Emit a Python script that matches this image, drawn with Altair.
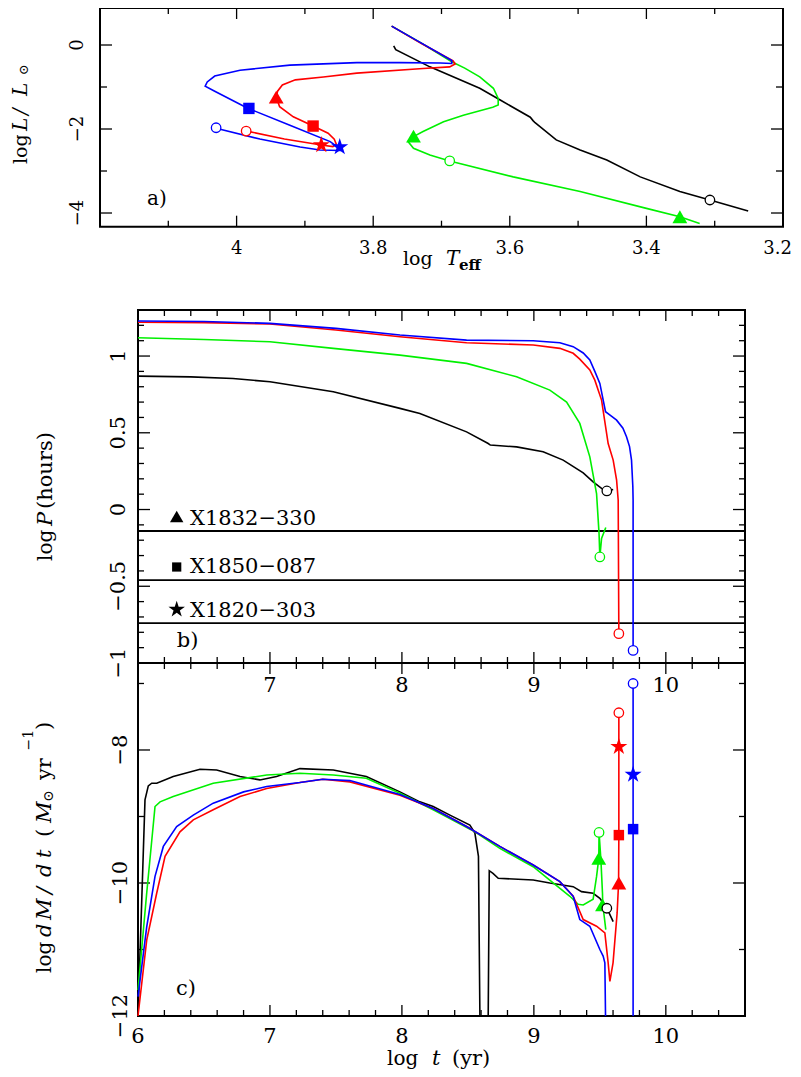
import altair as alt
import pandas as pd

FONT = "DejaVu Serif"
BLACK, GREEN, RED, BLUE = "#000000", "#00f000", "#ff0000", "#0000ff"

# ---------------- panel a : log L vs log Teff ----------------
a_black_teff = [3.770, 3.767, 3.717, 3.644, 3.614, 3.570, 3.566, 3.563, 3.532, 3.497, 3.458, 3.409, 3.351, 3.307, 3.251]
a_black_logl = [-0.02, -0.11, -0.52, -1.03, -1.31, -1.72, -1.80, -1.85, -2.26, -2.50, -2.74, -3.14, -3.49, -3.69, -3.95]
a_green_teff = [3.773, 3.730, 3.685, 3.666, 3.644, 3.624, 3.617, 3.617, 3.625, 3.668, 3.697, 3.727, 3.741, 3.749, 3.741, 3.717, 3.688, 3.595, 3.497, 3.400, 3.351, 3.322]
a_green_logl = [0.45, 0.05, -0.40, -0.55, -0.76, -1.03, -1.27, -1.43, -1.48, -1.67, -1.83, -2.06, -2.18, -2.30, -2.46, -2.62, -2.76, -3.14, -3.49, -3.89, -4.09, -4.25]
a_red_teff = [3.773, 3.730, 3.683, 3.680, 3.688, 3.727, 3.824, 3.873, 3.914, 3.933, 3.940, 3.942, 3.937, 3.917, 3.888, 3.866, 3.857, 3.854, 3.859, 3.876, 3.930, 3.985]
a_red_logl = [0.45, 0.04, -0.38, -0.45, -0.52, -0.56, -0.67, -0.76, -0.83, -0.95, -1.10, -1.24, -1.47, -1.71, -1.93, -2.10, -2.24, -2.36, -2.42, -2.38, -2.24, -2.05]
a_blue_teff = [3.773, 3.730, 3.685, 3.685, 3.702, 3.761, 3.824, 3.922, 3.995, 4.032, 4.043, 4.046, 4.032, 3.983, 3.922, 3.863, 3.852, 3.849, 3.878, 3.907, 3.966, 4.030]
a_blue_logl = [0.45, 0.05, -0.37, -0.44, -0.43, -0.42, -0.42, -0.48, -0.60, -0.74, -0.88, -0.98, -1.10, -1.51, -1.91, -2.30, -2.43, -2.51, -2.50, -2.43, -2.24, -1.98]

a_tri_teff = [3.942, 3.741, 3.351]
a_tri_logl = [-1.24, -2.17, -4.09]
a_tri_col = [RED, GREEN, GREEN]
a_sq_teff = [3.982, 3.888]
a_sq_logl = [-1.51, -1.93]
a_sq_col = [BLUE, RED]
a_star_teff = [3.849, 3.876]
a_star_logl = [-2.43, -2.38]
a_star_col = [BLUE, RED]
a_circ_teff = [4.030, 3.986, 3.688, 3.307]
a_circ_logl = [-1.97, -2.05, -2.76, -3.69]
a_circ_col = [BLUE, RED, GREEN, BLACK]

# ---------------- panel b : log P vs log t ----------------
b_black_t = [6.0, 6.4, 6.72, 7.0, 7.48, 7.985, 8.136, 8.49, 8.654, 8.67, 8.869, 9.07, 9.222, 9.374, 9.449, 9.525, 9.553, 9.601]
b_black_p = [0.869, 0.864, 0.854, 0.832, 0.767, 0.659, 0.626, 0.506, 0.43, 0.42, 0.408, 0.376, 0.322, 0.239, 0.18, 0.130, 0.121, 0.130]
b_green_t = [6.0, 6.5, 7.0, 7.48, 7.985, 8.49, 8.869, 9.121, 9.248, 9.348, 9.424, 9.475, 9.494, 9.5, 9.513, 9.545]
b_green_p = [1.119, 1.108, 1.093, 1.05, 1.006, 0.952, 0.865, 0.778, 0.70, 0.561, 0.343, 0.104, -0.157, -0.309, -0.189, -0.117]
b_red_t = [6.0, 6.5, 7.0, 7.5, 7.985, 8.49, 8.995, 9.197, 9.298, 9.348, 9.424, 9.462, 9.513, 9.563, 9.601, 9.627, 9.639, 9.644]
b_red_p = [1.22, 1.218, 1.209, 1.17, 1.126, 1.087, 1.072, 1.05, 1.018, 0.98, 0.909, 0.843, 0.713, 0.43, 0.322, 0.191, 0.061, -0.809]
b_blue_t = [6.0, 6.5, 7.0, 7.5, 7.985, 8.49, 8.995, 9.197, 9.298, 9.374, 9.424, 9.462, 9.5, 9.543, 9.585, 9.627, 9.675, 9.702, 9.725, 9.74, 9.75, 9.752, 9.752]
b_blue_p = [1.228, 1.225, 1.213, 1.18, 1.137, 1.104, 1.10, 1.087, 1.061, 1.02, 0.974, 0.90, 0.822, 0.637, 0.61, 0.582, 0.53, 0.474, 0.41, 0.322, 0.15, 0.061, -0.918]
b_circ_t = [9.553, 9.5, 9.644, 9.752]
b_circ_p = [0.121, -0.309, -0.809, -0.918]
b_circ_col = [BLACK, GREEN, RED, BLUE]
b_period_p = [-0.14, -0.46, -0.74]
b_period_names = ["X1832\u2212330", "X1850\u2212087", "X1820\u2212303"]

# ---------------- panel c : log dM/dt vs log t ----------------
c_black_t = [6.0, 6.053, 6.078, 6.104, 6.142, 6.267, 6.47, 6.596, 6.773, 6.924, 7.05, 7.227, 7.48, 7.73, 7.985, 8.136, 8.237, 8.364, 8.515, 8.553, 8.58, 8.591,
             8.654, 8.662, 8.69, 8.73, 8.995, 9.121, 9.298, 9.361, 9.449, 9.5, 9.553, 9.601]
c_black_m = [-12.0, -8.75, -8.54, -8.50, -8.50, -8.40, -8.29, -8.30, -8.40, -8.45, -8.40, -8.28, -8.30, -8.40, -8.63, -8.78, -8.85, -8.98, -9.13, -9.25, -9.6, -12.0,
             -12.0, -9.815, -9.855, -9.93, -9.955, -10.0, -10.055, -10.13, -10.155, -10.23, -10.38, -10.58]
c_black_seg = [0] * 22 + [1] * 12
c_green_t = [6.0, 6.066, 6.129, 6.167, 6.267, 6.57, 6.975, 7.227, 7.48, 7.73, 7.985, 8.237, 8.553, 8.742, 8.995, 9.146, 9.273, 9.336, 9.374, 9.449, 9.475, 9.492, 9.494, 9.508, 9.52, 9.522, 9.533, 9.545]
c_green_m = [-11.61, -10.15, -8.85, -8.78, -8.70, -8.50, -8.376, -8.35, -8.376, -8.426, -8.65, -8.90, -9.23, -9.48, -9.755, -10.0, -10.2, -10.32, -10.33, -10.245, -9.905, -9.63, -9.24, -9.65, -10.155, -10.33, -10.5, -10.7]
c_red_t = [6.0, 6.066, 6.142, 6.205, 6.318, 6.419, 6.57, 6.773, 6.975, 7.227, 7.40, 7.606, 7.985, 8.237, 8.49, 8.742, 8.995, 9.197, 9.298, 9.374, 9.475, 9.538, 9.563, 9.576, 9.60, 9.631, 9.642, 9.644, 9.644]
c_red_m = [-12.0, -10.86, -10.15, -9.60, -9.23, -9.05, -8.90, -8.70, -8.58, -8.49, -8.44, -8.48, -8.68, -8.88, -9.15, -9.45, -9.73, -9.98, -10.20, -10.55, -10.65, -10.75, -11.2, -11.48, -11.2, -10.45, -10.0, -9.28, -7.44]
c_blue_t = [6.0, 6.066, 6.129, 6.192, 6.293, 6.419, 6.57, 6.80, 6.975, 7.227, 7.40, 7.606, 7.985, 8.237, 8.49, 8.742, 8.995, 9.197, 9.298, 9.348, 9.424, 9.5, 9.525, 9.538, 9.543,
            9.752, 9.752]
c_blue_m = [-11.71, -10.66, -9.90, -9.45, -9.15, -8.98, -8.80, -8.63, -8.55, -8.49, -8.44, -8.46, -8.67, -8.88, -9.15, -9.45, -9.73, -9.98, -10.20, -10.55, -10.65, -11.0, -11.1, -11.2, -12.0,
            -12.0, -7.0]
c_blue_seg = [0] * 25 + [1] * 2

c_tri_t = [9.492, 9.52, 9.644]
c_tri_m = [-9.63, -10.33, -10.0]
c_tri_col = [GREEN, GREEN, RED]
c_sq_t = [9.644, 9.752]
c_sq_m = [-9.28, -9.19]
c_sq_col = [RED, BLUE]
c_star_t = [9.644, 9.752]
c_star_m = [-7.95, -8.37]
c_star_col = [RED, BLUE]
c_circ_t = [9.494, 9.553, 9.644, 9.752]
c_circ_m = [-9.24, -10.38, -7.44, -7.0]
c_circ_col = [GREEN, BLACK, RED, BLUE]

# ---------------- tick values / labels ----------------
a_x_major = [4.0, 3.8, 3.6, 3.4]
a_x_minor = [4.1, 3.9, 3.7, 3.5, 3.3]
a_x_lab_v = [4.0, 3.8, 3.6, 3.4]
a_x_lab_t = ["4", "3.8", "3.6", "3.4"]
a_x_last = "3.2"
a_y_major = [0, -2, -4]
a_y_minor = [-1, -3]
a_y_lab_t = ["0", "\u22122", "\u22124"]
t_major = [7, 8, 9, 10]
t_minor = [6.2, 6.4, 6.6, 6.8, 7.2, 7.4, 7.6, 7.8, 8.2, 8.4, 8.6, 8.8, 9.2, 9.4, 9.6, 9.8, 10.2, 10.4]
b_x_lab_v = [7, 8, 9, 10]
b_x_lab_t = ["7", "8", "9", "10"]
c_x_lab_v = [6, 7, 8, 9, 10]
c_x_lab_t = ["6", "7", "8", "9", "10"]
b_y_major = [1.0, 0.5, 0.0, -0.5]
b_y_minor = [-0.9, -0.8, -0.7, -0.6, -0.4, -0.3, -0.2, -0.1, 0.1, 0.2, 0.3, 0.4, 0.6, 0.7, 0.8, 0.9, 1.1, 1.2]
b_y_lab_v = [1.0, 0.5, 0.0, -0.5, -1.0]
b_y_lab_t = ["1", "0.5", "0", "\u22120.5", "\u22121"]
c_y_major = [-8, -10]
c_y_minor = [-7, -9, -11]
c_y_lab_v = [-8, -10, -12]
c_y_lab_t = ["\u22128", "\u221210", "\u221212"]

# ---------------- layout (pixels inside the single view) ----------------
W, H = 785, 1061
AX0, AX1, AY0, AY1 = 92, 775, 0, 218.7
BX0, BX1, BY0, BY1 = 130, 737, 302, 655
CY0, CY1 = 655, 1008

sa_x = alt.Scale(domain=[3.2, 4.2], range=[AX1, AX0], nice=False, zero=False)
sa_y = alt.Scale(domain=[-4.326, 0.881], range=[AY1, AY0], nice=False, zero=False)
st = alt.Scale(domain=[6.0, 10.6], range=[BX0, BX1], nice=False, zero=False)
sb_y = alt.Scale(domain=[-1.0, 1.3], range=[BY1, BY0], nice=False, zero=False)
sc_y = alt.Scale(domain=[-12.0, -6.692], range=[CY1, CY0], nice=False, zero=False)

STAR = "M0,-1L0.2245,-0.309L0.9511,-0.309L0.3633,0.118L0.5878,0.809L0,0.382L-0.5878,0.809L-0.3633,0.118L-0.9511,-0.309L-0.2245,-0.309Z"


def X(f, s):
    return alt.X(f, type="quantitative", scale=s, axis=None)


def Y(f, s):
    return alt.Y(f, type="quantitative", scale=s, axis=None)


def curve(xs, ys, color, sx, sy, seg=None):
    df = pd.DataFrame({"x": xs, "y": ys, "i": list(range(len(xs))),
                       "seg": seg if seg is not None else [0] * len(xs)})
    return alt.Chart(df).mark_line(color=color, strokeWidth=1.6).encode(
        x=X("x", sx), y=Y("y", sy), order=alt.Order("i:Q"), detail="seg:N")


def markers(xs, ys, cols, sx, sy, shape, size, open_=False):
    df = pd.DataFrame({"x": xs, "y": ys, "c": cols})
    if open_:
        m = alt.Chart(df).mark_point(shape=shape, size=size, filled=False, fill="white",
                                     fillOpacity=1, strokeWidth=1.3, opacity=1)
    else:
        m = alt.Chart(df).mark_point(shape=shape, size=size, filled=True, opacity=1, strokeWidth=0)
    return m.encode(x=X("x", sx), y=Y("y", sy), color=alt.Color("c:N", scale=None))


def xticks(vals, sx, y0, length):
    df = pd.DataFrame({"v": vals})
    return alt.Chart(df).mark_rule(color="black", strokeWidth=1.3).encode(
        x=X("v", sx), y=alt.value(y0), y2=alt.value(y0 + length))


def yticks(vals, sy, x0, length):
    df = pd.DataFrame({"v": vals})
    return alt.Chart(df).mark_rule(color="black", strokeWidth=1.3).encode(
        y=Y("v", sy), x=alt.value(x0), x2=alt.value(x0 + length))


def frame(x0, x1, y0, y1):
    return alt.Chart(pd.DataFrame({"k": [0]})).mark_rect(
        filled=False, color="black", strokeWidth=2).encode(
        x=alt.value(x0), x2=alt.value(x1), y=alt.value(y0), y2=alt.value(y1))


def xlabels(vals, texts, sx, ybase, size):
    df = pd.DataFrame({"v": vals, "t": texts})
    return alt.Chart(df).mark_text(font=FONT, fontSize=size, align="center", baseline="alphabetic",
                                   color="black").encode(x=X("v", sx), y=alt.value(ybase), text="t:N")


def ylabels(vals, texts, sy, xbase, size):
    df = pd.DataFrame({"v": vals, "t": texts})
    return alt.Chart(df).mark_text(font=FONT, fontSize=size, align="center", baseline="alphabetic",
                                   angle=270, color="black").encode(y=Y("v", sy), x=alt.value(xbase), text="t:N")


def txt(s, x, y, size=20, angle=0, style="normal", weight="normal", align="left"):
    return alt.Chart(pd.DataFrame({"t": [s]})).mark_text(
        font=FONT, fontSize=size, angle=angle, fontStyle=style, fontWeight=weight,
        align=align, baseline="alphabetic", color="black").encode(
        x=alt.value(x), y=alt.value(y), text="t:N")


layers = []

# ---- panel a ----
layers += [frame(AX0, AX1, AY0, AY1),
           xticks(a_x_major, sa_x, AY0, 11), xticks(a_x_minor, sa_x, AY0, 6),
           xticks(a_x_major, sa_x, AY1, -11), xticks(a_x_minor, sa_x, AY1, -6),
           yticks(a_y_major, sa_y, AX0, 12), yticks(a_y_minor, sa_y, AX0, 7),
           yticks(a_y_major, sa_y, AX1, -12), yticks(a_y_minor, sa_y, AX1, -7),
           xlabels(a_x_lab_v, a_x_lab_t, sa_x, 245.5, 18),
           txt(a_x_last, 784, 245.5, 18, align="right"),
           ylabels(a_y_major, a_y_lab_t, sa_y, 75, 18)]
layers += [curve(a_black_teff, a_black_logl, BLACK, sa_x, sa_y),
           curve(a_green_teff, a_green_logl, GREEN, sa_x, sa_y),
           curve(a_red_teff, a_red_logl, RED, sa_x, sa_y),
           curve(a_blue_teff, a_blue_logl, BLUE, sa_x, sa_y)]
layers += [markers(a_tri_teff, a_tri_logl, a_tri_col, sa_x, sa_y, "triangle-up", 220),
           markers(a_sq_teff, a_sq_logl, a_sq_col, sa_x, sa_y, "square", 130),
           markers(a_star_teff, a_star_logl, a_star_col, sa_x, sa_y, STAR, 320),
           markers(a_circ_teff, a_circ_logl, a_circ_col, sa_x, sa_y, "circle", 90, True)]
layers += [txt("a)", 139, 197, 20),
           txt("log", 395, 256.5, 19), txt("T", 438, 256.5, 20, style="italic"),
           txt("eff", 451, 262, 15, weight="bold"),
           txt("log", 19, 156, 19, angle=270),
           txt("L", 19, 123, 20, angle=270, style="italic"),
           txt("/", 19, 107, 20, angle=270, style="italic"),
           txt("L", 19, 88, 20, angle=270, style="italic"),
           txt("\u2299", 20, 67, 13, angle=270)]

# ---- panel b ----
layers += [frame(BX0, BX1, BY0, BY1),
           xticks(t_major, st, BY0, 11), xticks(t_minor, st, BY0, 6),
           xticks(t_major, st, BY1, -11), xticks(t_minor, st, BY1, -6),
           yticks(b_y_major, sb_y, BX0, 12), yticks(b_y_minor, sb_y, BX0, 6),
           yticks(b_y_major, sb_y, BX1, -12), yticks(b_y_minor, sb_y, BX1, -6),
           ylabels(b_y_lab_v, b_y_lab_t, sb_y, 117, 21)]
pdf = pd.DataFrame({"p": b_period_p})
layers += [alt.Chart(pdf).mark_rule(color="black", strokeWidth=1.8).encode(
    y=Y("p", sb_y), x=alt.value(BX0), x2=alt.value(BX1))]
layers += [curve(b_black_t, b_black_p, BLACK, st, sb_y),
           curve(b_green_t, b_green_p, GREEN, st, sb_y),
           curve(b_red_t, b_red_p, RED, st, sb_y),
           curve(b_blue_t, b_blue_p, BLUE, st, sb_y),
           markers(b_circ_t, b_circ_p, b_circ_col, st, sb_y, "circle", 90, True)]
leg_y = [517, 565.3, 608.7]
leg_mk_y = [508.5, 559, 601.5]
leg_shapes = [("triangle-up", 180), ("square", 85), (STAR, 300)]
for k in range(3):
    layers.append(txt(b_period_names[k], 182, leg_y[k], 21))
    shp, sz = leg_shapes[k]
    layers.append(alt.Chart(pd.DataFrame({"k": [0]})).mark_point(
        shape=shp, size=sz, filled=True, color="black", opacity=1, strokeWidth=0).encode(
        x=alt.value(168.7), y=alt.value(leg_mk_y[k])))
layers += [txt("b)", 168.7, 639, 21),
           txt("log", 44, 553, 20, angle=270), txt("P", 44, 518, 21, angle=270, style="italic"),
           txt("(hours)", 44, 501, 21, angle=270)]

# ---- panel c ----
layers += [frame(BX0, BX1, CY0, CY1),
           xticks(t_major, st, CY0, 11), xticks(t_minor, st, CY0, 6),
           xticks(t_major, st, CY1, -11), xticks(t_minor, st, CY1, -6),
           yticks(c_y_major, sc_y, BX0, 12), yticks(c_y_minor, sc_y, BX0, 6),
           yticks(c_y_major, sc_y, BX1, -12), yticks(c_y_minor, sc_y, BX1, -6),
           xlabels(b_x_lab_v, b_x_lab_t, st, 683.5, 21),
           xlabels(c_x_lab_v, c_x_lab_t, st, 1035.3, 21),
           ylabels(c_y_lab_v, c_y_lab_t, sc_y, 118.7, 21)]
layers += [curve(c_black_t, c_black_m, BLACK, st, sc_y, c_black_seg),
           curve(c_green_t, c_green_m, GREEN, st, sc_y),
           curve(c_red_t, c_red_m, RED, st, sc_y),
           curve(c_blue_t, c_blue_m, BLUE, st, sc_y, c_blue_seg)]
layers += [markers(c_tri_t, c_tri_m, c_tri_col, st, sc_y, "triangle-up", 220),
           markers(c_sq_t, c_sq_m, c_sq_col, st, sc_y, "square", 110),
           markers(c_star_t, c_star_m, c_star_col, st, sc_y, STAR, 320),
           markers(c_circ_t, c_circ_m, c_circ_col, st, sc_y, "circle", 90, True)]
layers += [txt("c)", 168, 987, 21),
           txt("log", 379, 1057, 20), txt("t", 424, 1057, 21, style="italic"), txt("(yr)", 444, 1057, 21),
           txt("log", 43, 965, 20, angle=270),
           txt("d", 43, 929, 21, angle=270, style="italic"),
           txt("M", 43, 912, 21, angle=270, style="italic"),
           txt("/", 43, 886, 21, angle=270, style="italic"),
           txt("d", 43, 869, 21, angle=270, style="italic"),
           txt("t", 43, 850, 21, angle=270, style="italic"),
           txt("(", 43, 829, 21, angle=270), txt("M", 43, 815, 21, angle=270, style="italic"),
           txt("\u2299", 45, 794, 14, angle=270), txt("yr", 43, 772, 21, angle=270),
           txt("\u22121", 25, 742.5, 14, angle=270), txt(")", 43, 722, 21, angle=270)]

chart = alt.layer(*layers).resolve_scale(x="independent", y="independent").properties(
    width=W, height=H, autosize=alt.AutoSizeParams(type="none"), padding=0
).configure_view(stroke=None)

chart.save("out.html", embed_options={"renderer": "svg", "actions": False})
